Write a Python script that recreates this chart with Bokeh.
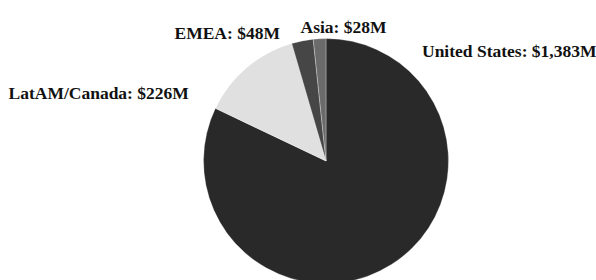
import math
from bokeh.plotting import figure
from bokeh.models import Range1d, ColumnDataSource
from bokeh.core.properties import value
from bokeh.embed import file_html
from bokeh.resources import INLINE

regions = ["United States", "LatAM/Canada", "EMEA", "Asia"]
revenue = [1383, 226, 48, 28]
labels = ["United States: $1,383M", "LatAM/Canada: $226M", "EMEA: $48M", "Asia: $28M"]
colors = ["#292929", "#e0e0e0", "#464646", "#6b6b6b"]

W, H = 596, 280
p = figure(width=W, height=H, output_backend="svg", toolbar_location=None,
           x_range=Range1d(0, W), y_range=Range1d(0, H), min_border=0)
p.axis.visible = False
p.grid.visible = False
p.outline_line_color = None

total = sum(revenue)
starts, ends = [], []
cum = 0.0
for v in revenue:
    a0 = math.pi / 2 - 2 * math.pi * cum / total
    cum += v
    a1 = math.pi / 2 - 2 * math.pi * cum / total
    starts.append(a1)
    ends.append(a0)

src = ColumnDataSource(dict(region=regions, value=revenue, start=starts, end=ends, color=colors))
cx, cy, r = 325.5, 119.5, 122.5
p.wedge(x=cx, y=cy, radius=r, start_angle="start", end_angle="end", direction="anticlock",
        fill_color="color", line_color="#ffffff", line_width=0.6, line_alpha=0.5, source=src)

# label anchor positions (layout)
lx = [421.5, 8.0, 174, 300]
ly = [229.3, 187.3, 247.7, 254.0]
lsrc = ColumnDataSource(dict(x=lx, y=ly, text=labels))
p.text(x="x", y="y", text="text", source=lsrc, text_font=value("Liberation Serif"),
       text_font_style="bold", text_font_size="17.5px", text_color="#111111",
       text_baseline="alphabetic", text_align="left")

open("out.html", "w").write(file_html(p, INLINE))
